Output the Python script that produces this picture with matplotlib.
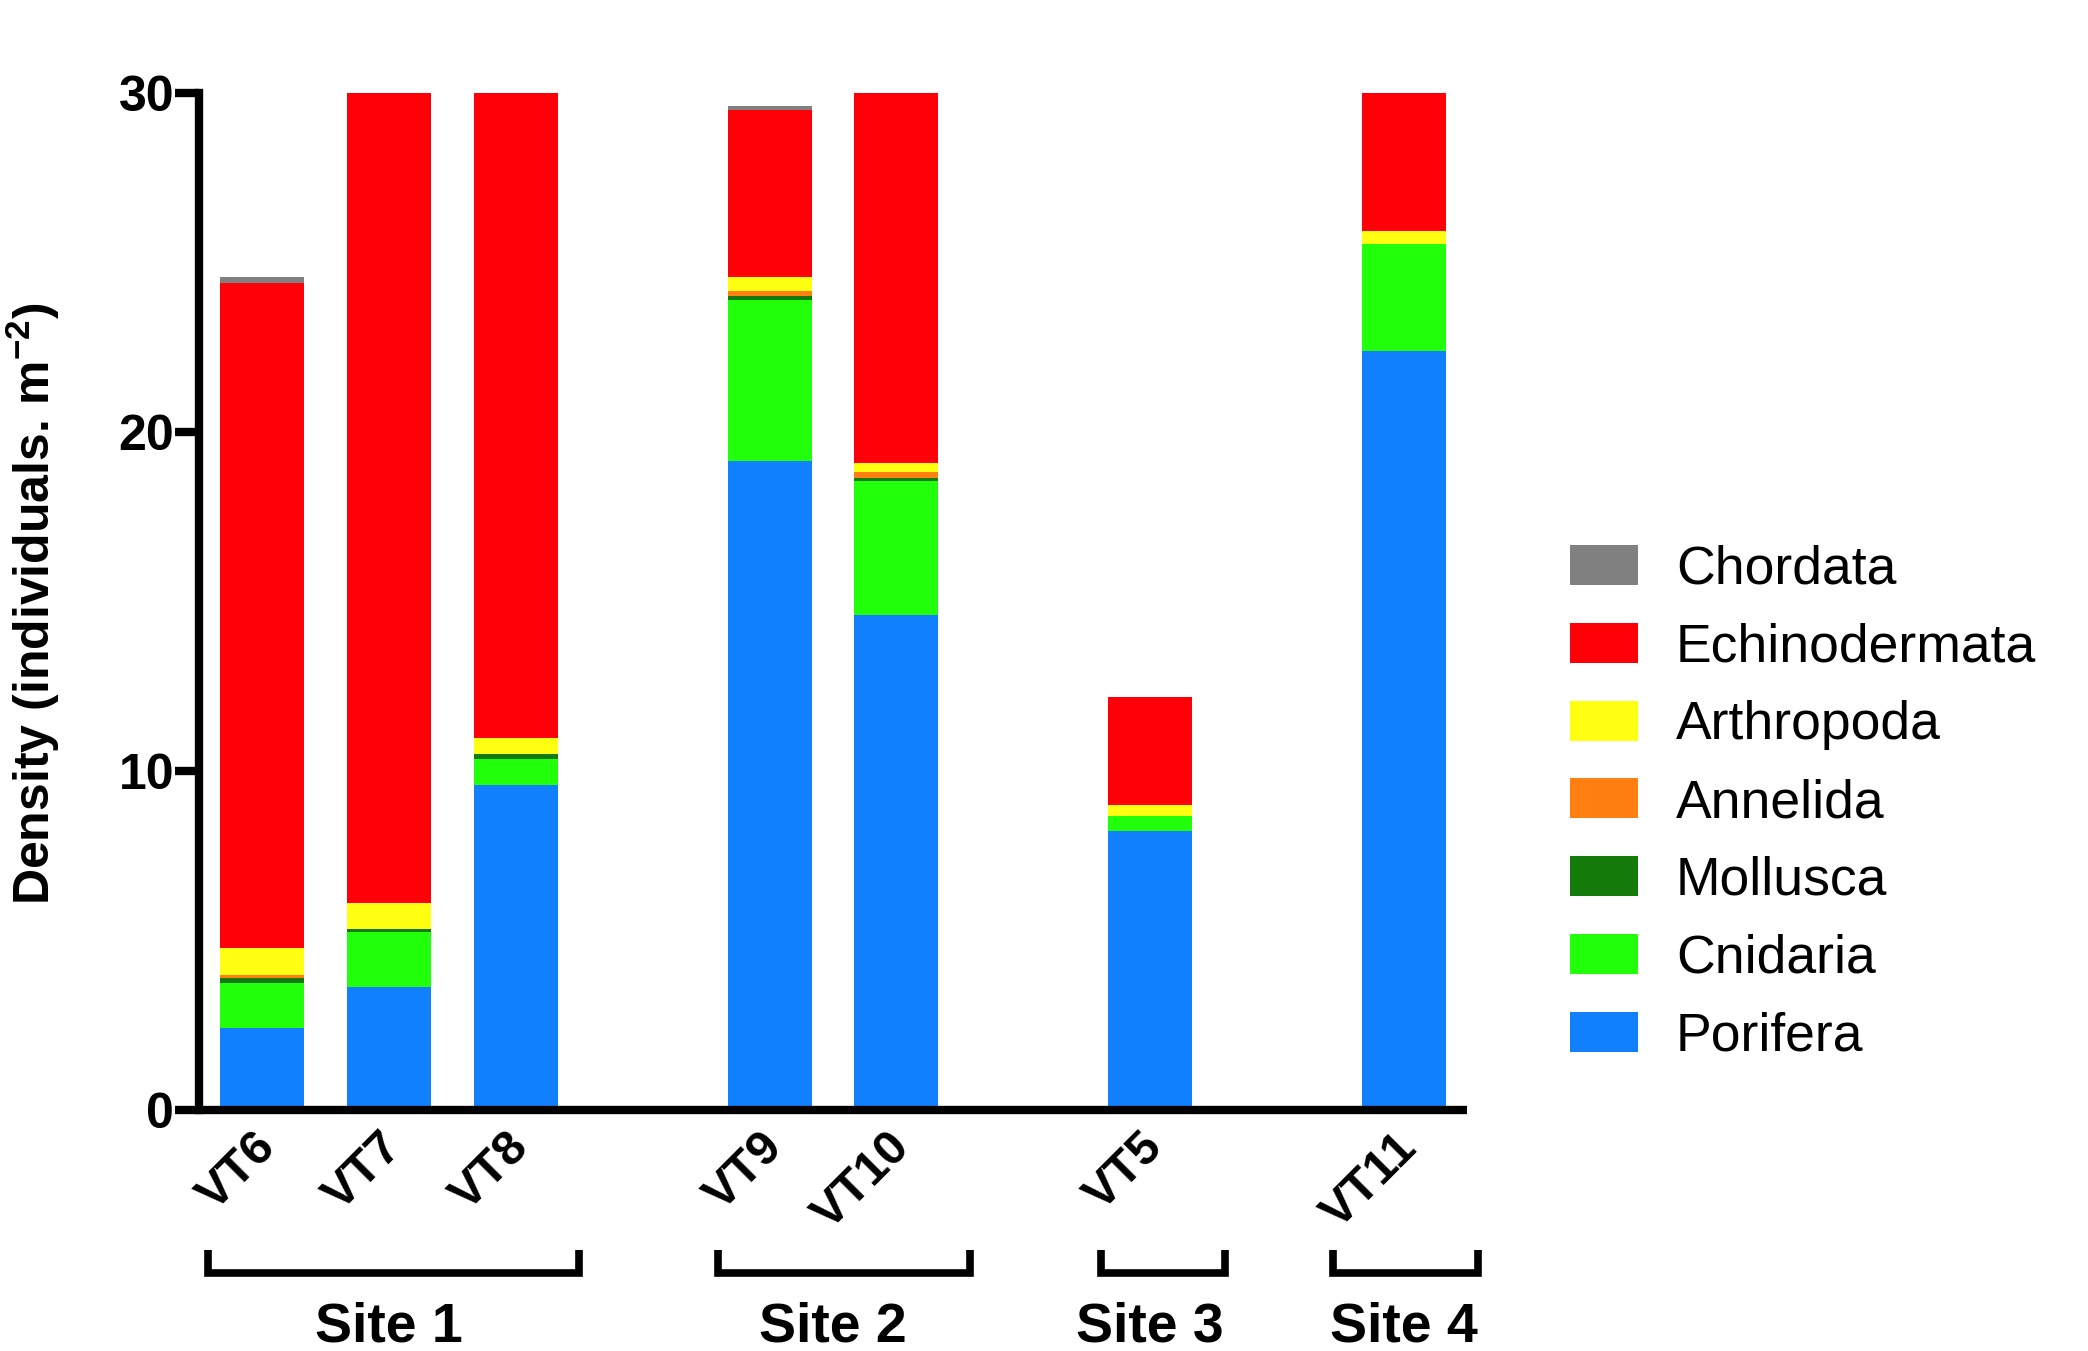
import numpy as np
import matplotlib
matplotlib.use('Agg')
import matplotlib.pyplot as plt
from matplotlib.patches import Patch
import matplotlib.transforms as mtransforms

# ---- data ----
stations = ['VT6', 'VT7', 'VT8', 'VT9', 'VT10', 'VT5', 'VT11']
sites = ['Site 1', 'Site 2', 'Site 3', 'Site 4']
site_members = [['VT6', 'VT7', 'VT8'], ['VT9', 'VT10'], ['VT5'], ['VT11']]
phyla = ['Porifera', 'Cnidaria', 'Mollusca', 'Annelida', 'Arthropoda',
         'Echinodermata', 'Chordata']
porifera = [2.43, 3.64, 9.59, 19.14, 14.61, 8.22, 22.39]
cnidaria = [1.33, 1.60, 0.77, 4.75, 3.93, 0.46, 3.16]
mollusca = [0.12, 0.10, 0.14, 0.11, 0.10, 0.00, 0.00]
annelida = [0.10, 0.00, 0.00, 0.15, 0.18, 0.00, 0.00]
arthropoda = [0.80, 0.77, 0.47, 0.43, 0.28, 0.31, 0.37]
echinodermata = [19.62, 23.89, 19.03, 4.91, 10.90, 3.19, 4.08]
chordata = [0.16, 0.00, 0.00, 0.13, 0.00, 0.00, 0.00]
yticks = [0, 10, 20, 30]
ylabel = 'Density (individuals. m$^{\\mathregular{-2}}$)'

series = [porifera, cnidaria, mollusca, annelida, arthropoda, echinodermata, chordata]
colors = ['#1180FF', '#22FF0A', '#147B0A', '#FF7F10', '#FFFF12', '#FF0008', '#808080']
# bracket paddings (layout only)
pad_left = [0.43, 0.41, 0.39, 0.56]
pad_right = [0.50, 0.58, 0.59, 0.59]

plt.rcParams['font.family'] = ['Liberation Sans', 'DejaVu Sans']
plt.rcParams['mathtext.default'] = 'regular'

# positions: one empty slot between sites
pos = {}
p = 0
for members in site_members:
    for m in members:
        pos[m] = p
        p += 1
    p += 1
x = np.array([pos[s] for s in stations], dtype=float)

fig = plt.figure(figsize=(20.88, 13.51), dpi=100)
ax = fig.add_axes([199 / 2088, 1 - 1110 / 1351, 1268 / 2088, 1017 / 1351])

bottom = np.zeros(len(stations))
handles = []
for name, vals, col in zip(phyla, series, colors):
    v = np.array(vals)
    ax.bar(x, v, bottom=bottom, width=0.662, color=col, linewidth=0)
    bottom += v
    handles.append(Patch(facecolor=col, edgecolor='none', label=name))

ax.set_xlim(-0.5, x.max() + 0.5)
ax.set_ylim(0, 30)
for s in ['top', 'right']:
    ax.spines[s].set_visible(False)
for s in ['left', 'bottom']:
    ax.spines[s].set_linewidth(6)
ax.spines['left'].set_capstyle('projecting')
ax.spines['bottom'].set_capstyle('butt')

ax.set_yticks(yticks)
ax.set_yticklabels([str(t) for t in yticks], fontsize=36, fontweight='bold')
ax.tick_params(axis='y', length=17, width=6, pad=1)
ax.set_xticks(x)
ax.set_xticklabels(stations, rotation=45, ha='right', va='center',
                   rotation_mode='anchor', fontsize=35, fontweight='bold')
ax.tick_params(axis='x', length=0, pad=22)
offset = mtransforms.ScaledTranslation(0.06, 0, fig.dpi_scale_trans)
for lab in ax.get_xticklabels():
    lab.set_transform(lab.get_transform() + offset)

ax.set_ylabel(ylabel, fontsize=36, fontweight='bold')
ax.yaxis.set_label_coords(-0.108, 0.4975)

# site brackets
trans = mtransforms.blended_transform_factory(ax.transData, ax.transAxes)
for i, (site, members) in enumerate(zip(sites, site_members)):
    xs = [pos[m] for m in members]
    x0, x1 = min(xs) - pad_left[i], max(xs) + pad_right[i]
    ax.plot([x0, x0, x1, x1], [-0.138, -0.160, -0.160, -0.138], color='black',
            lw=5.5, transform=trans, clip_on=False, solid_capstyle='butt',
            solid_joinstyle='miter')
    ax.text(np.mean(xs), -0.228, site, transform=trans, ha='center',
            va='baseline', fontsize=40, fontweight='bold')

leg = fig.legend(handles=handles[::-1], loc='center left',
                 bbox_to_anchor=(1570 / 2088, 1 - 803 / 1351), frameon=False,
                 fontsize=38.5, handlelength=1.27, handleheight=0.77,
                 handletextpad=0.71, labelspacing=0.52, borderpad=0,
                 borderaxespad=0)

fig.savefig('out.png', dpi=100)
